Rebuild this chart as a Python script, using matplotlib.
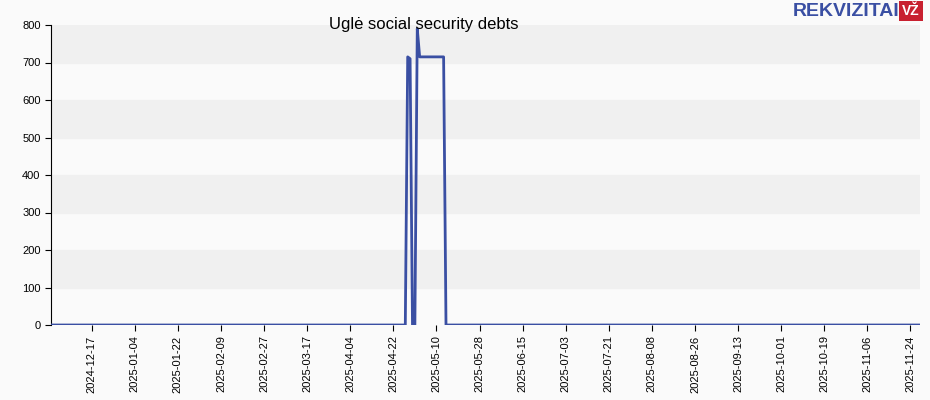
import matplotlib
matplotlib.use("Agg")
import matplotlib.pyplot as plt
import pandas as pd

start_date = "2024-11-30"
end_date = "2025-11-28"
spike_dates = ["2025-04-28", "2025-04-29", "2025-04-30", "2025-05-01", "2025-05-02",
               "2025-05-03", "2025-05-13", "2025-05-14"]
spike_values = [715, 710, 0, 0, 790, 715, 715, 0]
tick_labels = ["2024-12-17", "2025-01-04", "2025-01-22", "2025-02-09", "2025-02-27", "2025-03-17",
               "2025-04-04", "2025-04-22", "2025-05-10", "2025-05-28", "2025-06-15", "2025-07-03",
               "2025-07-21", "2025-08-08", "2025-08-26", "2025-09-13", "2025-10-01", "2025-10-19",
               "2025-11-06", "2025-11-24"]

dates = pd.date_range(start_date, end_date, freq="D")
s = pd.Series(0.0, index=dates)
sp = pd.Series(spike_values, index=pd.to_datetime(spike_dates), dtype=float)
s.loc[sp.index] = sp
s.loc["2025-05-03":"2025-05-13"] = 715

fig = plt.figure(figsize=(9.3, 4.0), dpi=100)
fig.patch.set_facecolor("#fafafa")
ax = fig.add_axes([51/930, 75/400, 869/930, 300/400])
ax.set_facecolor("#fafafa")
for i in range(0, 8, 2):
    ax.axhspan(i*100+100, i*100+200, color="#f0f0f0", zorder=0)
ax.plot(s.index, s.values, color="#3a4fa3", lw=2, zorder=3)
ax.set_xlim(pd.Timestamp(start_date), pd.Timestamp(end_date))
ax.set_ylim(0, 800)
ax.set_yticks(range(0, 801, 100))
ax.set_xticks(pd.to_datetime(tick_labels))
ax.set_xticklabels(tick_labels, rotation=90, fontsize=8, family="Liberation Sans")
for l in ax.get_yticklabels():
    l.set_fontsize(8); l.set_family("Liberation Sans")
for sp_ in ["top", "right", "bottom"]:
    ax.spines[sp_].set_visible(False)
ax.spines["left"].set_color("#000000")
ax.tick_params(length=4)
fig.text(424/930, 1-24/400, "Uglė social security debts", ha="center", va="center",
         fontsize=12, family="Liberation Sans")
fig.text(846/930, 1-11/400, "REKVIZITAI", ha="center", va="center", fontsize=14,
         fontweight="bold", color="#3a4fa3", family="Liberation Sans")
fig.text(911/930, 1-11/400, "VŽ", ha="center", va="center", fontsize=10, fontweight="bold",
         color="white", family="Liberation Sans",
         bbox=dict(boxstyle="square,pad=0.25", fc="#c8202f", ec="none"))
fig.savefig("out.png", dpi=100, facecolor=fig.get_facecolor())
